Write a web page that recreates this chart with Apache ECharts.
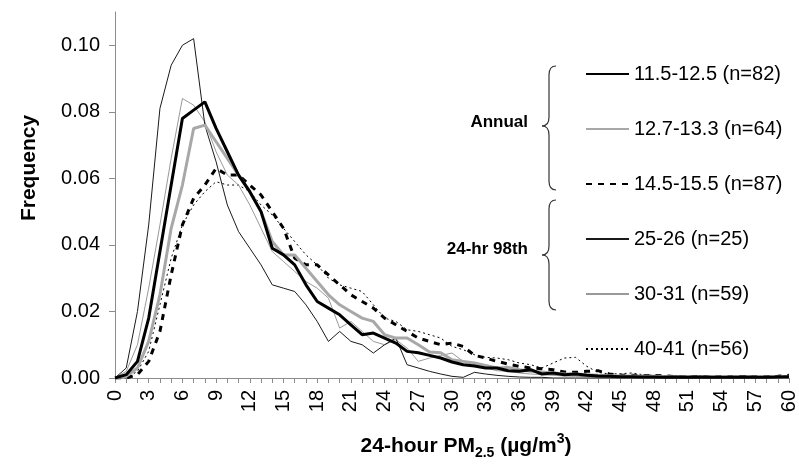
<!DOCTYPE html>
<html>
<head>
<meta charset="utf-8">
<script src="https://cdn.jsdelivr.net/npm/echarts@6/dist/echarts.min.js"></script>
<style>
html, body { margin: 0; padding: 0; background: #fff; }
#main { width: 799px; height: 465px; }
</style>
</head>
<body>
<div id="main"></div>
<script>
// PM2.5 值 (µg/m3)
var pmCats = [0, 1, 2, 3, 4, 5, 6, 7, 8, 9, 10, 11, 12, 13, 14, 15, 16, 17, 18, 19, 20,
	21, 22, 23, 24, 25, 26, 27, 28, 29, 30, 31, 32, 33, 34, 35, 36, 37, 38, 39, 40,
	41, 42, 43, 44, 45, 46, 47, 48, 49, 50, 51, 52, 53, 54, 55, 56, 57, 58, 59, 60];
var yTicks = [0, 0.02, 0.04, 0.06, 0.08, 0.10];

// Annual
var ann1 = [0, 0.001, 0.005, 0.018, 0.038, 0.058, 0.078, 0.0805, 0.083, 0.075,
	0.068, 0.061, 0.056, 0.050, 0.039, 0.037, 0.034, 0.028, 0.023, 0.021,
	0.019, 0.016, 0.013, 0.0135, 0.012, 0.0105, 0.008, 0.0076, 0.0068, 0.006,
	0.0048, 0.004, 0.0036, 0.003, 0.003, 0.0022, 0.002, 0.0025, 0.0012, 0.0015,
	0.001, 0.0012, 0.0008, 0.0006, 0.0005, 0.0004, 0.0004, 0.0003, 0.0003, 0.0002,
	0.0003, 0.0002, 0.0003, 0.0002, 0.0002, 0.0002, 0.0003, 0.0002, 0.0002, 0.0003, 0.0004];
var ann2 = [0, 0.0005, 0.003, 0.011, 0.025, 0.045, 0.058, 0.075, 0.076, 0.071,
	0.066, 0.061, 0.056, 0.050, 0.041, 0.037, 0.037, 0.033, 0.029, 0.025,
	0.022, 0.020, 0.018, 0.017, 0.013, 0.012, 0.012, 0.010, 0.0078, 0.0076,
	0.0055, 0.005, 0.0045, 0.0038, 0.003, 0.0032, 0.0025, 0.002, 0.0018, 0.0015,
	0.0012, 0.0012, 0.001, 0.0008, 0.0007, 0.0006, 0.0006, 0.0005, 0.0005, 0.0004,
	0.0004, 0.0004, 0.0003, 0.0004, 0.0003, 0.0003, 0.0003, 0.0003, 0.0003, 0.0003, 0.0004];
var ann3 = [0, 0, 0.001, 0.005, 0.014, 0.031, 0.046, 0.054, 0.058, 0.063,
	0.061, 0.061, 0.058, 0.055, 0.050, 0.045, 0.036, 0.034, 0.034, 0.031,
	0.028, 0.025, 0.023, 0.021, 0.018, 0.016, 0.014, 0.012, 0.011, 0.010,
	0.0105, 0.0095, 0.0068, 0.006, 0.005, 0.0042, 0.0035, 0.003, 0.0028, 0.0025,
	0.0018, 0.0017, 0.002, 0.0022, 0.0012, 0.0008, 0.0008, 0.0007, 0.0008, 0.0006,
	0.0004, 0.0004, 0.0005, 0.0004, 0.0004, 0.0004, 0.0004, 0.0004, 0.0004, 0.0005, 0.0008];
// 24-hr 98th
var d98a = [0, 0.003, 0.02, 0.046, 0.081, 0.094, 0.100, 0.102, 0.076, 0.065,
	0.052, 0.044, 0.039, 0.034, 0.028, 0.027, 0.026, 0.022, 0.017, 0.011,
	0.014, 0.011, 0.010, 0.0075, 0.010, 0.012, 0.004, 0.003, 0.002, 0.0012,
	0.0005, 0.0002, 0.0017, 0.0012, 0.0008, 0.0005, 0.0003, 0.0002, 0.0002, 0,
	0, 0, 0, 0, 0, 0, 0, 0, 0, 0,
	0, 0, 0, 0, 0, 0, 0, 0, 0, 0, 0];
var d98b = [0, 0.002, 0.010, 0.027, 0.046, 0.066, 0.084, 0.082, 0.077, 0.068,
	0.061, 0.058, 0.052, 0.045, 0.038, 0.035, 0.032, 0.029, 0.027, 0.024,
	0.015, 0.017, 0.014, 0.011, 0.010, 0.0115, 0.009, 0.005, 0.006, 0.0068,
	0.0075, 0.005, 0.004, 0.003, 0.0022, 0.002, 0.0015, 0.0012, 0.001, 0.0008,
	0.0006, 0.0005, 0.0004, 0.0003, 0.0003, 0.0002, 0.0002, 0.0002, 0.0002, 0.0002,
	0.0002, 0.0002, 0.0002, 0.0002, 0.0002, 0.0002, 0.0002, 0.0002, 0.0002, 0.0002, 0.0002];
var d98c = [0, 0, 0.002, 0.008, 0.022, 0.036, 0.046, 0.052, 0.056, 0.059,
	0.058, 0.058, 0.056, 0.052, 0.049, 0.045, 0.041, 0.037, 0.034, 0.030,
	0.028, 0.027, 0.026, 0.022, 0.018, 0.017, 0.0145, 0.014, 0.013, 0.012,
	0.0095, 0.0085, 0.007, 0.0062, 0.006, 0.0055, 0.0045, 0.004, 0.003, 0.0045,
	0.006, 0.0062, 0.0035, 0.0017, 0.0012, 0.0013, 0.0015, 0.001, 0.0008, 0.0007,
	0.0006, 0.0006, 0.0006, 0.0005, 0.0005, 0.0005, 0.0006, 0.0005, 0.0005, 0.0006, 0.0006];

var seriesNames = ['11.5-12.5 (n=82)', '12.7-13.3 (n=64)', '14.5-15.5 (n=87)',
	'25-26 (n=25)', '30-31 (n=59)', '40-41 (n=56)'];

var font = '"Liberation Sans", Arial, sans-serif';

function mkLine(name, data, color, width, type, z) {
	return {
		name : name,
		type : 'line',
		data : data,
		showSymbol : false,
		symbol : 'none',
		z : z,
		lineStyle : {
			color : color,
			width : width,
			type : type
		},
		itemStyle : {
			color : color
		}
	};
}

// 大括号 (brace): x 为竖线位置, top/bottom 为上下端, tip 为尖端 y
function mkBrace(x, top, bottom, tip) {
	var st = { stroke : '#333', lineWidth : 1.2, fill : null };
	var r = 9, w = 7;
	return {
		type : 'group',
		children : [
			{ type : 'bezierCurve', shape : { x1 : x + w, y1 : top, cpx1 : x, cpy1 : top, x2 : x, y2 : top + r }, style : st },
			{ type : 'line', shape : { x1 : x, y1 : top + r, x2 : x, y2 : tip - r }, style : st },
			{ type : 'bezierCurve', shape : { x1 : x, y1 : tip - r, cpx1 : x, cpy1 : tip, x2 : x - w, y2 : tip }, style : st },
			{ type : 'bezierCurve', shape : { x1 : x - w, y1 : tip, cpx1 : x, cpy1 : tip, x2 : x, y2 : tip + r }, style : st },
			{ type : 'line', shape : { x1 : x, y1 : tip + r, x2 : x, y2 : bottom - r }, style : st },
			{ type : 'bezierCurve', shape : { x1 : x, y1 : bottom - r, cpx1 : x, cpy1 : bottom, x2 : x + w, y2 : bottom }, style : st }
		]
	};
}

var chart = echarts.init(document.getElementById('main'));
var option = {
	backgroundColor : '#fff',
	animation : false,
	textStyle : {
		fontFamily : font
	},
	grid : {
		left : 115,
		right : 9,
		top : 12,
		bottom : 81
	},
	legend : {
		orient : 'vertical',
		left : 580,
		top : 59,
		itemWidth : 43,
		itemHeight : 14,
		itemGap : 35,
		data : seriesNames,
		itemStyle : {
			opacity : 0
		},
		textStyle : {
			color : '#000',
			fontSize : 20,
			fontFamily : font
		}
	},
	xAxis : {
		type : 'category',
		data : pmCats,
		boundaryGap : false,
		name : '24-hour PM{sub|2.5} (µg/m{sup|3})',
		nameLocation : 'middle',
		nameGap : 54,
		nameTextStyle : {
			color : '#000',
			fontSize : 21,
			fontWeight : 'bold',
			fontFamily : font,
			padding : [0, 0, 0, 28],
			lineHeight : 28,
			rich : {
				sub : {
					fontSize : 14,
					fontWeight : 'bold',
					lineHeight : 14,
					verticalAlign : 'bottom'
				},
				sup : {
					fontSize : 14,
					fontWeight : 'bold',
					lineHeight : 14,
					verticalAlign : 'top'
				}
			}
		},
		axisLine : {
			lineStyle : {
				color : '#8c8c8c',
				width : 1
			}
		},
		axisTick : {
			interval : 0,
			length : 5,
			lineStyle : {
				color : '#8c8c8c'
			}
		},
		axisLabel : {
			interval : 2,
			rotate : 90,
			margin : 12,
			color : '#000',
			fontSize : 20,
			fontFamily : font
		}
	},
	yAxis : {
		type : 'value',
		min : 0,
		max : 0.11,
		interval : 0.02,
		name : 'Frequency',
		nameLocation : 'middle',
		nameGap : 75,
		nameTextStyle : {
			color : '#000',
			fontSize : 21,
			fontWeight : 'bold',
			fontFamily : font,
			padding : [0, 0, 0, 54]
		},
		splitLine : {
			show : false
		},
		axisLine : {
			show : true,
			lineStyle : {
				color : '#8c8c8c',
				width : 1
			}
		},
		axisTick : {
			show : true,
			length : 6,
			customValues : yTicks,
			lineStyle : {
				color : '#8c8c8c'
			}
		},
		axisLabel : {
			customValues : yTicks,
			margin : 15,
			color : '#000',
			fontSize : 20,
			fontFamily : font,
			formatter : function(v) {
				return v.toFixed(2);
			}
		}
	},
	graphic : [
		mkBrace(549, 66, 190, 126),
		mkBrace(549, 200, 310, 255),
		{
			type : 'text',
			right : 799 - 528,
			top : 114,
			style : {
				text : 'Annual',
				font : 'bold 17px ' + font,
				fill : '#000'
			}
		}, {
			type : 'text',
			right : 799 - 528,
			top : 241,
			style : {
				text : '24-hr 98th',
				font : 'bold 17px ' + font,
				fill : '#000'
			}
		}
	],
	series : [
		mkLine(seriesNames[0], ann1, '#000', 3, 'solid', 6),
		mkLine(seriesNames[1], ann2, '#a8a8a8', 3, 'solid', 5),
		mkLine(seriesNames[2], ann3, '#000', 3, [6, 6], 4),
		mkLine(seriesNames[3], d98a, '#1a1a1a', 1, 'solid', 3),
		mkLine(seriesNames[4], d98b, '#999', 1, 'solid', 2),
		mkLine(seriesNames[5], d98c, '#000', 1, [2, 3], 1)
	]
};
chart.setOption(option);
</script>
</body>
</html>
